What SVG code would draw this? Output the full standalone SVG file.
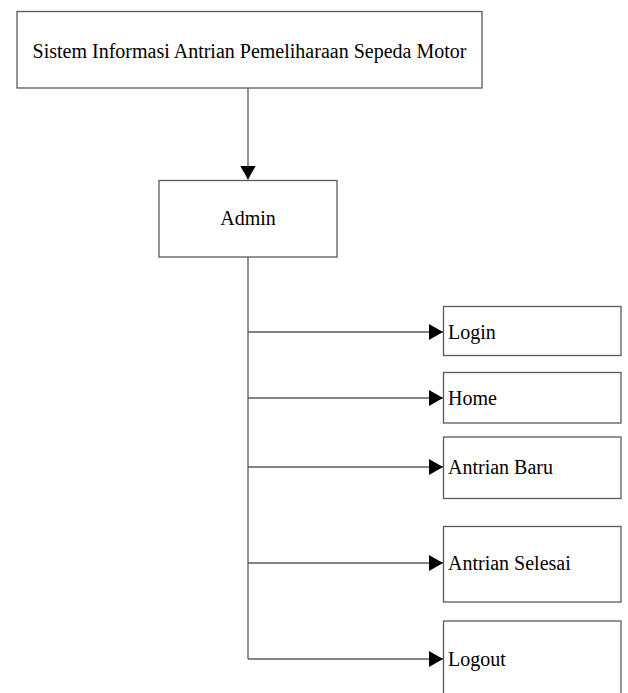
<svg xmlns="http://www.w3.org/2000/svg" width="628" height="693" viewBox="0 0 628 693">
<style>
.box{fill:#fff;stroke:#5a5a5a;stroke-width:1.3}
.ln{fill:none;stroke:#5a5a5a;stroke-width:1.3}
.t{font-family:"Liberation Serif","Times New Roman",serif;font-size:20px;fill:#000}
</style>
<defs>
<marker id="ah" markerWidth="14" markerHeight="16" refX="14" refY="8" orient="auto" markerUnits="userSpaceOnUse">
<path d="M0,0 L14,8 L0,16 Z" fill="#000"/>
</marker>
</defs>
<rect width="628" height="693" fill="#fff"/>
<g id="connectors">
<line class="ln" x1="248" y1="88" x2="248" y2="179.5" marker-end="url(#ah)"/>
<polyline class="ln" points="248,257 248,659"/>
<line class="ln" x1="248" y1="332" x2="443" y2="332" marker-end="url(#ah)"/>
<line class="ln" x1="248" y1="398" x2="443" y2="398" marker-end="url(#ah)"/>
<line class="ln" x1="248" y1="467" x2="443" y2="467" marker-end="url(#ah)"/>
<line class="ln" x1="248" y1="563" x2="443" y2="563" marker-end="url(#ah)"/>
<line class="ln" x1="248" y1="659" x2="443" y2="659" marker-end="url(#ah)"/>
</g>
<g id="sistem">
<rect class="box" x="17" y="11.5" width="465" height="76.5"/>
<text class="t" x="249.5" y="58" text-anchor="middle">Sistem Informasi Antrian Pemeliharaan Sepeda Motor</text>
</g>
<g id="admin">
<rect class="box" x="159" y="180.5" width="178" height="76.5"/>
<text class="t" x="248" y="225" text-anchor="middle">Admin</text>
</g>
<g id="login">
<rect class="box" x="443.5" y="306.5" width="177.5" height="49"/>
<text class="t" x="448" y="338.5">Login</text>
</g>
<g id="home">
<rect class="box" x="443.5" y="372.5" width="177.5" height="50.5"/>
<text class="t" x="448" y="404.5">Home</text>
</g>
<g id="antrian-baru">
<rect class="box" x="443.5" y="437" width="177.5" height="61.5"/>
<text class="t" x="448" y="473.5">Antrian Baru</text>
</g>
<g id="antrian-selesai">
<rect class="box" x="443.5" y="526.5" width="177.5" height="75.5"/>
<text class="t" x="448" y="569.5">Antrian Selesai</text>
</g>
<g id="logout">
<rect class="box" x="443.5" y="621" width="177.5" height="80"/>
<text class="t" x="448" y="665.5">Logout</text>
</g>
</svg>
